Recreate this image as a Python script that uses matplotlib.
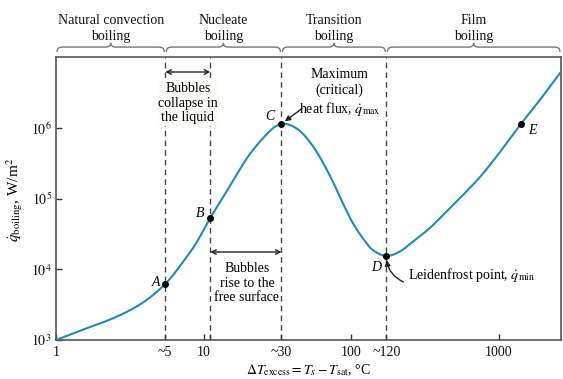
import numpy as np
import matplotlib
matplotlib.use("Agg")
import matplotlib.pyplot as plt
from matplotlib.path import Path
from matplotlib.patches import PathPatch

plt.rcParams['font.family'] = ['Liberation Serif', 'DejaVu Serif']
plt.rcParams['mathtext.fontset'] = 'stix'
plt.rcParams['font.size'] = 10

# ---- data ----
dt_curve = [1, 1.50, 2.55, 3.84, 5.50, 7.17, 8.92, 11.1, 12.8, 15.7, 20.4,
            26.5, 30.2, 33.7, 38.2, 44.6, 52.2, 61.0, 75.1, 87.8, 102.7, 120,
            140, 173, 213, 262, 340, 442, 573, 744, 966, 1253, 1413, 1900, 2640]
q_curve = [1000, 1385, 2115, 3335, 6200, 12270, 23550, 53200, 85800,
           173500, 414000, 794000, 1.02e6, 1.135e6, 1.10e6, 9.12e5, 6.38e5,
           3.92e5, 1.735e5, 8.58e4, 4.48e4, 2.74e4, 1.875e4, 1.542e4, 1.774e4,
           2.455e4, 3.8e4, 6.53e4, 1.125e5, 2.0e5, 3.92e5, 8.1e5, 1.135e6,
           2.48e6, 6.18e6]

pt_names = ['A', 'B', 'C', 'D', 'E']
pt_dt = [5.5, 11.1, 33.7, 173, 1413]
pt_q = [6200, 53200, 1.135e6, 15420, 1.135e6]

xtick_vals = [1, 5.5, 10, 11.1, 33.7, 100, 173, 1000]
xtick_labels = ['1', '~5', '10', '', '~30', '100', '~120', '1000']
ytick_vals = [1e3, 1e4, 1e5, 1e6]
ytick_labels = [r'$10^3$', r'$10^4$', r'$10^5$', r'$10^6$']

region_names = ['Natural convection\nboiling', 'Nucleate\nboiling',
                'Transition\nboiling', 'Film\nboiling']
region_bounds = [1, 5.5, 33.7, 173, 2640]

x_lim = (1, 2640)
y_lim = (1e3, 1e7)


def smooth_loglog(xs, ys, n=24, alpha=0.5, xscale=2.08):
    """Centripetal Catmull-Rom through the read points (log-log space)."""
    P = np.column_stack([np.log10(xs) * xscale, np.log10(ys)])
    P = np.vstack([2 * P[0] - P[1], P, 2 * P[-1] - P[-2]])
    out = []
    for i in range(1, len(P) - 2):
        p0, p1, p2, p3 = P[i - 1:i + 3]
        t0 = 0.0
        t1 = t0 + np.linalg.norm(p1 - p0) ** alpha
        t2 = t1 + np.linalg.norm(p2 - p1) ** alpha
        t3 = t2 + np.linalg.norm(p3 - p2) ** alpha
        t = np.linspace(t1, t2, n, endpoint=False)[:, None]
        A1 = (t1 - t) / (t1 - t0) * p0 + (t - t0) / (t1 - t0) * p1
        A2 = (t2 - t) / (t2 - t1) * p1 + (t - t1) / (t2 - t1) * p2
        A3 = (t3 - t) / (t3 - t2) * p2 + (t - t2) / (t3 - t2) * p3
        B1 = (t2 - t) / (t2 - t0) * A1 + (t - t0) / (t2 - t0) * A2
        B2 = (t3 - t) / (t3 - t1) * A2 + (t - t1) / (t3 - t1) * A3
        out.append((t2 - t) / (t2 - t1) * B1 + (t - t1) / (t2 - t1) * B2)
    out.append(P[-2][None])
    S = np.vstack(out)
    return 10 ** (S[:, 0] / xscale), 10 ** S[:, 1]


# ---- figure ----
fig = plt.figure(figsize=(5.63, 3.79), dpi=100)
ax = fig.add_axes([56/563, 39/379, 505/563, 283/379])
ax.set_xscale('log')
ax.set_yscale('log')
ax.set_xlim(*x_lim)
ax.set_ylim(*y_lim)

curve_color = '#1b8bc6'
sx, sy = smooth_loglog(dt_curve, q_curve)
ax.plot(sx, sy, color=curve_color, lw=1.5, solid_capstyle='round', zorder=3)

# vertical dashed lines at A, B, C, D
for x in pt_dt[:4]:
    ax.axvline(x, color='#444444', lw=1.0, ls=(0, (4, 3)), zorder=1)

# points and labels
ax.plot(pt_dt, pt_q, 'o', color='black', ms=4, zorder=4)
offsets = {'A': (-7, 1), 'B': (-7, 3), 'C': (-8, 5), 'D': (-7, -8), 'E': (8, -5)}
for n, x, y in zip(pt_names, pt_dt, pt_q):
    dx, dy = offsets[n]
    ax.annotate(n, (x, y), xytext=(dx, dy), textcoords='offset points',
                ha='center', va='center', fontsize=10, style='italic',
                fontfamily='Liberation Serif', zorder=5)

# ticks
ax.minorticks_off()
ax.set_xticks(xtick_vals)
ax.set_xticklabels(xtick_labels)
ax.set_yticks(ytick_vals)
ax.set_yticklabels(ytick_labels)
ax.tick_params(axis='both', direction='in', length=4, width=1.0,
               colors='#333333', labelcolor='#111111', labelsize=10)
ax.tick_params(axis='x', pad=4)
ax.tick_params(axis='y', pad=3)
for s in ax.spines.values():
    s.set_color('#555555')
    s.set_linewidth(1.2)

ax.set_xlabel(r'$\Delta T_{\rm excess} = T_s - T_{\rm sat}$, °C', fontsize=10,
              labelpad=3)
fig.text(15/563, 1 - 200/379, r'$\dot{q}_{\rm boiling}$, W/m$^2$',
         rotation=90, ha='center', va='center', fontsize=11)

# braces and region names
lx0, lx1 = np.log10(x_lim[0]), np.log10(x_lim[1])
def frac(x):
    return (np.log10(x) - lx0) / (lx1 - lx0)

yb, ym, yt = 1.018, 1.035, 1.050
for i, name in enumerate(region_names):
    x0 = frac(region_bounds[i]) + 0.002
    x1 = frac(region_bounds[i + 1]) - 0.002
    xm = (x0 + x1) / 2
    d = 0.010
    verts = [(x0, yb), (x0, ym), (x0 + d, ym), (xm - d, ym), (xm, ym), (xm, yt),
             (xm, ym), (xm + d, ym), (x1 - d, ym), (x1, ym), (x1, yb)]
    codes = [Path.MOVETO, Path.CURVE3, Path.CURVE3, Path.LINETO, Path.CURVE3,
             Path.CURVE3, Path.CURVE3, Path.CURVE3, Path.LINETO, Path.CURVE3,
             Path.CURVE3]
    ax.add_patch(PathPatch(Path(verts, codes), transform=ax.transAxes,
                           fill=False, ec='#777777', lw=1.0, clip_on=False))
    ax.text(xm, 1.10, name, transform=ax.transAxes, ha='center', va='center',
            fontsize=10, linespacing=1.25, color='#111111')

xt = ax.get_xaxis_transform()
# Bubbles collapse in the liquid
ax.annotate('', xy=(pt_dt[0], 0.947), xytext=(pt_dt[1], 0.947), xycoords=xt,
            textcoords=xt,
            arrowprops=dict(arrowstyle='<->', color='#222222', lw=1.0,
                            shrinkA=0, shrinkB=0, mutation_scale=8))
ax.text(0.261, 0.837, 'Bubbles\ncollapse in\nthe liquid', transform=ax.transAxes,
        ha='center', va='center', fontsize=10, linespacing=1.15, zorder=4,
        bbox=dict(boxstyle='square,pad=0.1', fc='#fbfbf8', ec='none'))

# Bubbles rise to the free surface
ax.annotate('', xy=(pt_dt[1], 0.311), xytext=(pt_dt[2], 0.311), xycoords=xt,
            textcoords=xt,
            arrowprops=dict(arrowstyle='<->', color='#222222', lw=1.0,
                            shrinkA=0, shrinkB=0, mutation_scale=8))
ax.text(0.378, 0.201, 'Bubbles\nrise to the\nfree surface', transform=ax.transAxes,
        ha='center', va='center', fontsize=10, linespacing=1.15, zorder=4)

# Maximum heat flux
ax.text(0.562, 0.873, 'Maximum\n(critical)\nheat flux, $\\dot{q}_{\\rm max}$',
        transform=ax.transAxes, ha='center', va='center', fontsize=10,
        linespacing=1.25, zorder=4)
ax.annotate('', xy=(pt_dt[2], pt_q[2]), xytext=(0.487, 0.818),
            textcoords='axes fraction',
            arrowprops=dict(arrowstyle='-|>', color='#222222', lw=1.0,
                            shrinkA=0, shrinkB=3, mutation_scale=8))

# Leidenfrost point
ax.text(0.697, 0.230, 'Leidenfrost point, $\\dot{q}_{\\rm min}$',
        transform=ax.transAxes, ha='left', va='center', fontsize=10, zorder=4)
ax.annotate('', xy=(pt_dt[3], pt_q[3]), xytext=(0.688, 0.205),
            textcoords='axes fraction',
            arrowprops=dict(arrowstyle='-|>', color='#222222', lw=1.0,
                            shrinkA=0, shrinkB=3, mutation_scale=8,
                            connectionstyle='arc3,rad=-0.3'))

fig.savefig('out.png', dpi=100)
